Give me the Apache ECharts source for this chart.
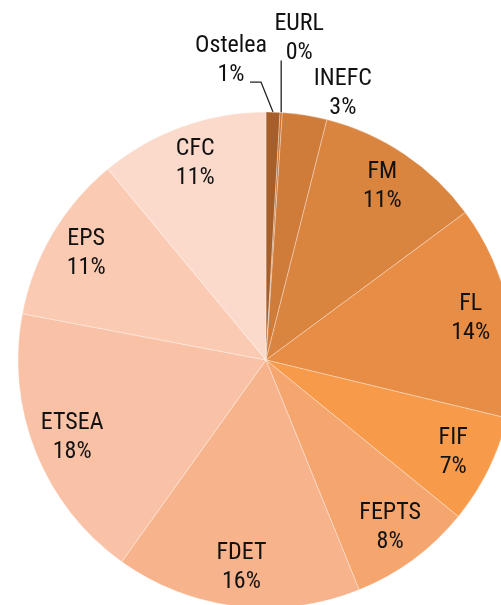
<!DOCTYPE html>
<html>
<head>
<meta charset="utf-8">
<title>pie</title>
<script src="https://cdn.jsdelivr.net/npm/echarts@6/dist/echarts.min.js"></script>
<style>
    html, body { margin: 0; padding: 0; background: #fff; }
    #pie-chart { width: 501px; height: 605px; }
</style>
</head>
<body>
<div id="pie-chart"></div>
<script>
/*schools share pie*/

var names = ['Ostelea', 'EURL', 'INEFC', 'FM', 'FL', 'FIF', 'FEPTS', 'FDET', 'ETSEA', 'EPS', 'CFC'];
var shares = [0.9, 0.15, 2.9, 10.9, 13.9, 7.1, 8.0, 16.0, 18.1, 11.0, 11.0];
var colors = ['#a65f2a', '#c87232', '#cf7b3a', '#d9843f', '#e78d45', '#f79a4a', '#f5a56e', '#f7b38c', '#f9c1a5', '#fbcab3', '#fcdacb'];
var outsideNames = ['Ostelea', 'EURL', 'INEFC'];

var FONT = "'Liberation Sans Narrow', 'Roboto Condensed', 'DejaVu Sans Condensed', sans-serif";
var CENTER = [266, 360];
var RADIUS = 248;

// offsets from the slice edge point: label centre + leader line
var outsideLayout = {
    'Ostelea': { label: [-42, -52], line: [[0, 0], [-12, -30], [-23, -30]] },
    'EURL': { label: [18, -74], line: [[0, 0], [0, -26], [0, -52]] },
    'INEFC': { label: [38, -22], line: null }
};

function labelText(p) {
    return p.name + '\n' + Math.round(p.percent) + '%';
}

// point on the rim at the middle of slice i (used when no leader line exists)
function rimPoint(i) {
    var total = 0, before = 0;
    for (var k = 0; k < shares.length; k++) {
        total += shares[k];
        if (k < i) before += shares[k];
    }
    var ang = (before + shares[i] / 2) / total * Math.PI * 2;
    return [CENTER[0] + RADIUS * Math.sin(ang), CENTER[1] - RADIUS * Math.cos(ang)];
}

function buildSlices() {
    var array = [];
    for (var i = 0; i < names.length; i++) {
        var outside = outsideNames.indexOf(names[i]) >= 0;
        var cfg = outsideLayout[names[i]];
        array.push({
            name: names[i],
            value: shares[i],
            itemStyle: { color: colors[i] },
            label: { show: outside, position: 'outside' },
            labelLine: { show: !!(cfg && cfg.line) }
        });
    }
    return array;
}

function buildRing() {
    var array = [];
    for (var i = 0; i < names.length; i++) {
        array.push({
            name: names[i],
            value: shares[i],
            label: { show: outsideNames.indexOf(names[i]) < 0 }
        });
    }
    return array;
}

function drawPie() {
    var pieChart = echarts.init(document.getElementById('pie-chart'));

    var textStyle = {
        formatter: labelText,
        fontFamily: FONT,
        fontSize: 24,
        lineHeight: 29,
        color: '#111'
    };

    var option = {
        animation: false,
        series: [
            {
                type: 'pie',
                center: CENTER,
                radius: [0, RADIUS],
                startAngle: 90,
                clockwise: true,
                avoidLabelOverlap: false,
                data: buildSlices(),
                itemStyle: { borderColor: 'rgba(255,255,255,0.55)', borderWidth: 0.6 },
                label: echarts.util.extend({ distanceToLabelLine: 0 }, textStyle),
                labelLine: { length: 8, length2: 4, lineStyle: { color: '#222', width: 1.3 } },
                labelLayout: function (params) {
                    var cfg = outsideLayout[names[params.dataIndex]];
                    if (!cfg) {
                        return {};
                    }
                    var a = params.labelLinePoints ? params.labelLinePoints[0] : rimPoint(params.dataIndex);
                    var out = {
                        x: a[0] + cfg.label[0],
                        y: a[1] + cfg.label[1],
                        align: 'center',
                        verticalAlign: 'middle'
                    };
                    if (cfg.line && params.labelLinePoints) {
                        out.labelLinePoints = cfg.line.map(function (d) {
                            return [a[0] + d[0], a[1] + d[1]];
                        });
                    }
                    return out;
                },
                emphasis: { disabled: true }
            },
            {
                // transparent ring, only carries the inner labels at ~0.83 r
                type: 'pie',
                center: CENTER,
                radius: [RADIUS * 0.66, RADIUS],
                startAngle: 90,
                clockwise: true,
                silent: true,
                avoidLabelOverlap: false,
                data: buildRing(),
                itemStyle: { color: 'transparent', borderWidth: 0 },
                label: echarts.util.extend({ position: 'inside' }, textStyle),
                labelLine: { show: false },
                emphasis: { disabled: true }
            }
        ]
    };

    pieChart.setOption(option);
}

drawPie();
</script>
</body>
</html>
